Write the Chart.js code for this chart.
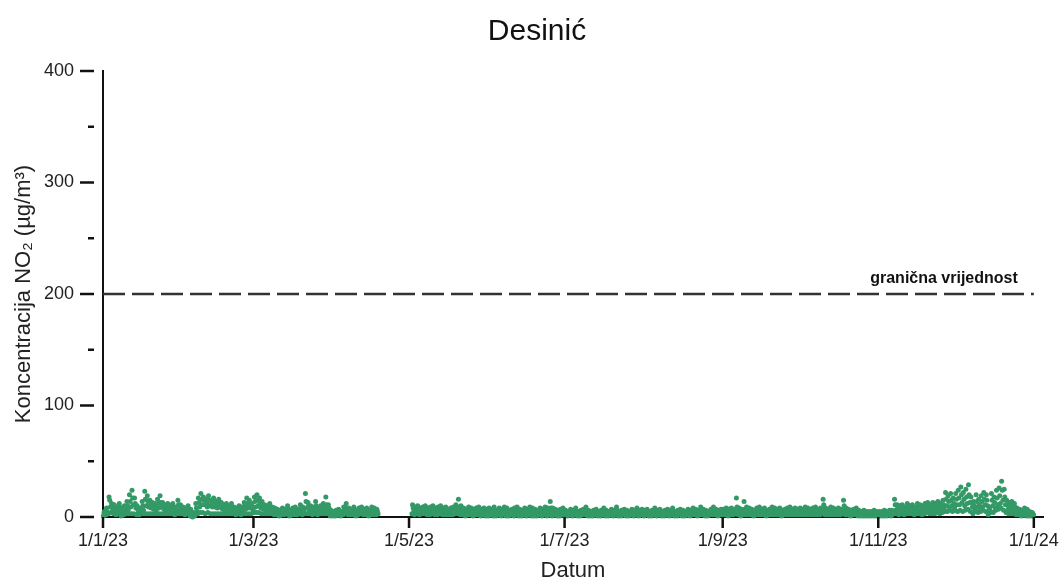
<!DOCTYPE html>
<html>
<head>
<meta charset="utf-8">
<script src="https://cdn.jsdelivr.net/npm/chart.js@4/dist/chart.umd.min.js"></script>
<style>
  html, body { margin: 0; padding: 0; background: #fff; }
  canvas { display: block; }
</style>
</head>
<body>
<canvas id="c" width="1064" height="584"></canvas>
<script>
const stationName = 'Desinić';
const limitValue = 200;
const limitLabel = 'granična vrijednost';
const xTickDates = ['2023-01-01', '2023-03-01', '2023-05-01', '2023-07-01', '2023-09-01', '2023-11-01', '2024-01-01'];
const xTickLabels = ['1/1/23', '1/3/23', '1/5/23', '1/7/23', '1/9/23', '1/11/23', '1/1/24'];
const yMajorTicks = [0, 100, 200, 300, 400];
const yMinorTicks = [50, 150, 250, 350];

// NO2 concentration (µg/m³), four readings per day (00, 06, 12, 18 h), each month from the 1st
const jan = [1,4,5,2, 2,8,5,3, 3,18,15,9, 4,12,9,6, 3,11,8,5, 2,9,6,4, 3,12,9,6, 1,7,5,3, 2,10,7,4, 3,14,10,6,
  3,20,14,9, 3,24,17,11, 3,17,12,8, 2,10,7,4, 2,8,6,4, 3,14,10,6, 3,23,16,10, 3,19,14,9, 3,15,11,8, 3,13,10,7,
  3,12,9,6, 3,16,12,8, 3,19,13,9, 3,13,10,7, 3,11,8,5, 3,12,9,6, 3,10,7,5, 3,12,9,6, 2,9,6,4, 3,15,11,7,
  3,11,8,5];
const feb = [3,9,7,5, 2,8,6,4, 3,10,7,5, 1,7,5,3, 0,4,3,1, 2,12,8,5, 3,17,13,9, 4,21,16,11, 4,18,15,11, 3,16,12,9,
  4,19,15,10, 3,15,12,9, 3,17,13,9, 3,14,11,8, 3,16,12,9, 3,13,10,7, 3,11,8,6, 3,12,9,6, 3,10,7,5, 3,12,9,6,
  3,9,7,5, 2,8,6,4, 3,10,7,5, 2,9,6,4, 3,13,10,7, 3,17,12,8, 3,15,11,8, 3,12,9,6];
const mar = [4,18,14,9, 4,20,15,10, 4,17,12,8, 3,14,10,7, 3,11,8,5, 3,10,7,5, 3,12,9,6, 3,9,7,5, 2,8,6,4, 2,7,5,3,
  1,6,4,2, 2,8,6,4, 2,7,5,3, 3,10,7,5, 1,6,4,2, 2,8,6,4, 2,9,6,4, 2,7,5,3, 3,11,8,5, 2,9,6,4,
  3,21,14,8, 3,13,10,6, 3,10,7,5, 2,9,6,4, 3,14,10,6, 2,8,6,4, 3,10,7,5, 3,12,8,5, 3,18,11,7, 3,11,8,5,
  1,6,4,2];
// measurements stop on 18 April
const apr = [1,5,4,2, 1,6,4,2, 2,7,5,3, 1,5,4,2, 2,9,6,4, 3,12,8,5, 2,8,6,4, 2,7,5,3, 2,9,6,4, 1,6,4,2,
  2,8,6,4, 3,9,7,5, 2,7,5,3, 2,8,6,4, 1,6,4,2, 2,9,6,4, 2,8,6,4, 2,7,5,3];
// measurements resume on 2 May
const may = [null,null,null,null, 3,11,8,5, 2,9,6,4, 3,10,7,5, 2,8,6,4, 3,9,7,5, 3,10,7,5, 2,8,6,4, 2,9,6,4, 3,10,7,5,
  2,8,6,4, 2,9,6,4, 3,10,7,5, 2,8,6,4, 2,9,6,4, 2,7,5,3, 2,8,6,4, 2,9,6,4, 3,11,8,5, 3,16,9,6,
  2,10,7,4, 2,8,6,4, 1,7,5,3, 2,9,6,4, 2,8,6,4, 1,7,5,3, 2,8,6,4, 2,9,6,4, 1,7,5,3, 2,8,6,4,
  1,7,5,3];
const jun = [1,8,6,3, 2,7,5,3, 1,9,6,4, 1,6,4,2, 2,8,6,4, 1,7,5,3, 2,9,6,4, 1,8,5,3, 1,6,4,2, 2,7,5,3,
  1,8,6,3, 2,9,6,4, 1,7,5,3, 1,6,4,2, 2,8,6,4, 1,7,5,3, 2,9,6,4, 1,8,6,3, 1,7,5,3, 1,6,4,2,
  2,8,6,4, 1,7,5,3, 2,9,6,4, 1,8,5,3, 2,14,8,5, 1,8,6,3, 2,7,5,3, 1,6,4,2, 1,7,5,3, 2,8,6,4];
const jul = [1,6,4,3, 1,5,4,2, 2,7,5,3, 1,6,4,3, 2,8,5,3, 1,5,4,2, 1,6,4,3, 2,7,5,3, 2,9,6,4, 1,6,4,3,
  1,5,4,2, 1,6,4,3, 2,7,5,3, 1,5,4,2, 1,6,4,3, 2,8,5,3, 1,6,4,3, 1,5,4,2, 2,7,5,3, 1,6,4,3,
  2,9,6,4, 1,5,4,2, 1,6,4,3, 2,7,5,3, 1,6,4,3, 1,5,4,2, 2,7,5,3, 1,6,4,3, 2,8,5,3, 1,6,4,3,
  2,7,5,3];
const aug = [1,6,4,3, 2,7,5,3, 1,5,4,2, 1,6,4,3, 2,8,5,3, 1,6,4,3, 2,7,5,3, 1,5,4,2, 1,6,4,3, 2,7,5,3,
  1,6,4,3, 2,8,5,3, 1,5,4,2, 1,6,4,3, 2,7,5,3, 1,6,4,3, 1,5,4,2, 2,7,5,3, 1,6,4,3, 2,8,5,3,
  2,7,5,3, 1,6,4,3, 2,9,6,4, 2,7,5,3, 1,6,4,3, 1,5,4,2, 2,7,5,3, 2,9,6,4, 2,7,5,3, 1,6,4,3,
  2,7,5,3];
const sep = [2,7,5,3, 2,8,5,4, 1,7,5,3, 2,8,5,4, 2,7,5,3, 3,17,9,5, 2,8,5,4, 1,7,5,3, 2,14,7,4, 2,9,6,4,
  2,8,5,4, 2,7,5,3, 1,6,4,3, 2,8,5,4, 2,9,6,4, 2,7,5,3, 2,8,5,4, 1,6,4,3, 2,7,5,3, 2,9,6,4,
  2,8,5,4, 2,7,5,3, 2,8,5,4, 1,6,4,3, 2,7,5,3, 2,8,5,4, 2,9,6,4, 2,7,5,3, 2,8,5,4, 2,7,5,3];
const oct = [2,8,5,4, 2,7,5,3, 2,9,6,4, 2,8,5,4, 2,7,5,3, 2,8,5,4, 2,9,6,4, 2,7,5,3, 2,8,5,4, 3,16,11,7,
  2,8,5,4, 2,7,5,3, 2,9,6,4, 2,8,5,4, 2,7,5,3, 2,8,5,4, 2,7,5,3, 3,15,10,6, 2,8,5,4, 2,7,5,3,
  1,6,4,3, 2,7,5,3, 2,8,5,4, 1,6,4,3, 1,5,4,2, 1,6,4,3, 1,5,4,2, 1,5,3,2, 1,5,4,2, 1,6,4,3,
  1,5,4,2];
const nov = [1,5,4,2, 1,5,3,2, 1,6,4,3, 1,5,4,2, 2,6,4,3, 1,6,4,3, 3,16,11,6, 3,11,8,5, 2,10,7,4, 3,11,8,5,
  2,9,6,4, 3,12,8,5, 3,10,7,5, 3,11,8,5, 2,9,6,4, 3,12,8,5, 3,11,8,5, 2,10,7,4, 3,12,9,6, 4,13,10,7,
  3,11,8,5, 3,13,10,6, 3,12,9,6, 4,14,10,7, 3,12,9,6, 4,15,11,7, 5,22,16,10, 5,19,14,9, 6,21,15,10, 5,17,12,8];
const dec = [6,21,16,11, 5,24,17,11, 6,27,20,13, 5,22,16,10, 6,25,18,12, 7,29,20,13, 5,18,13,9, 3,14,10,6, 5,20,14,9, 4,16,11,7,
  5,19,14,9, 6,22,16,11, 5,20,15,10, 2,9,7,4, 5,21,15,10, 4,18,13,8, 6,24,17,11, 7,26,19,12, 8,32,24,15, 6,25,18,11,
  4,15,11,7, 3,13,10,6, 3,14,10,6, 3,12,9,6, 2,8,6,4, 2,7,5,3, 1,6,4,3, 2,8,6,4, 1,7,5,3, 1,5,4,2,
  1,4,3,2];

const FONT = "'Liberation Sans', Arial, Helvetica, sans-serif";
const HOUR = 3600000;
const DAY = 24 * HOUR;
const xStart = Date.parse(xTickDates[0]);
const xEnd = Date.parse(xTickDates[xTickDates.length - 1]);

// readings are 6 hours apart, each placed in the middle of its interval
const months = [jan, feb, mar, apr, may, jun, jul, aug, sep, oct, nov, dec];
const points = [];
months.forEach((vals, m) => {
  const monthStart = Date.UTC(2023, m, 1);
  vals.forEach((v, i) => {
    if (v === null) return;
    points.push({ x: monthStart + (i * 6 + 3) * HOUR, y: v });
  });
});

Chart.defaults.font.family = FONT;

// tick marks, title and limit label
const axisMarks = {
  id: 'axisMarks',
  afterDraw(chart) {
    const { ctx, chartArea, scales: { x, y } } = chart;
    ctx.save();
    ctx.strokeStyle = '#111';
    ctx.lineWidth = 2.5;
    ctx.lineCap = 'butt';
    const left = chartArea.left;
    yMajorTicks.forEach(v => {
      const py = y.getPixelForValue(v);
      ctx.beginPath(); ctx.moveTo(left - 23, py); ctx.lineTo(left - 9, py); ctx.stroke();
    });
    yMinorTicks.forEach(v => {
      const py = y.getPixelForValue(v);
      ctx.beginPath(); ctx.moveTo(left - 15, py); ctx.lineTo(left - 9, py); ctx.stroke();
    });
    xTickDates.forEach(d => {
      const px = x.getPixelForValue(Date.parse(d));
      ctx.beginPath(); ctx.moveTo(px, chartArea.bottom); ctx.lineTo(px, chartArea.bottom + 11); ctx.stroke();
    });

    ctx.fillStyle = '#111';
    ctx.textAlign = 'center';
    ctx.textBaseline = 'alphabetic';
    ctx.font = '30px ' + FONT;
    ctx.fillText(stationName, 537, 40);

    ctx.font = 'bold 16px ' + FONT;
    ctx.textAlign = 'right';
    ctx.fillText(limitLabel, x.getPixelForValue(xEnd) - 16, y.getPixelForValue(limitValue) - 11);
    ctx.restore();
  }
};

new Chart(document.getElementById('c'), {
  type: 'scatter',
  data: {
    datasets: [
      {
        data: points,
        backgroundColor: '#339966',
        borderWidth: 0,
        pointRadius: 2.5,
        pointHoverRadius: 2.5,
        clip: false
      },
      {
        type: 'line',
        data: [{ x: xStart, y: limitValue }, { x: xEnd, y: limitValue }],
        borderColor: '#333',
        borderWidth: 2.5,
        borderDash: [22, 7],
        pointRadius: 0,
        fill: false
      }
    ]
  },
  options: {
    responsive: false,
    animation: false,
    events: [],
    layout: { padding: { top: 71, right: 21, bottom: 0, left: 0 } },
    plugins: {
      legend: { display: false },
      tooltip: { enabled: false },
      title: { display: false }
    },
    scales: {
      x: {
        type: 'linear',
        min: xStart,
        max: xEnd + 3.6 * DAY,
        grid: { display: false, drawTicks: false },
        border: { display: true, color: '#111', width: 2 },
        ticks: {
          autoSkip: false,
          maxRotation: 0,
          padding: 13,
          color: '#222',
          font: { size: 18 },
          callback: (v, i) => xTickLabels[i]
        },
        afterBuildTicks: s => { s.ticks = xTickDates.map(d => ({ value: Date.parse(d) })); },
        afterFit: s => { s.height = 67; s.paddingLeft = 0; s.paddingRight = 0; },
        title: {
          display: true,
          text: 'Datum',
          color: '#222',
          font: { size: 22 },
          padding: { top: 0, bottom: 0 }
        }
      },
      y: {
        min: 0,
        max: 400,
        grid: { display: false, drawTicks: false },
        border: { display: true, color: '#111', width: 2 },
        ticks: {
          padding: 29,
          color: '#222',
          font: { size: 18 },
          callback: v => String(v)
        },
        afterBuildTicks: s => { s.ticks = yMajorTicks.map(v => ({ value: v })); },
        afterFit: s => { s.width = 103; },
        title: {
          display: true,
          text: 'Koncentracija NO₂ (µg/m³)',
          color: '#222',
          font: { size: 22 },
          padding: { top: 10.5, bottom: 0 }
        }
      }
    }
  },
  plugins: [axisMarks]
});
</script>
</body>
</html>
